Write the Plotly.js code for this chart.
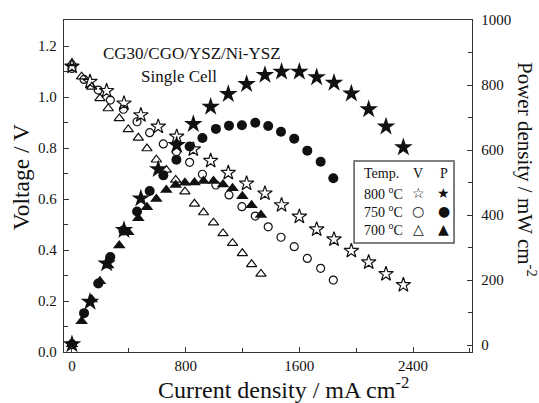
<!DOCTYPE html>
<html>
<head>
<meta charset="utf-8">
<script src="https://cdn.plot.ly/plotly-3.0.1.min.js"></script>
<style>html,body{margin:0;padding:0;background:#fff;}#chart{width:539px;height:403px;}</style>
</head>
<body>
<div id="chart"></div>
<script>
// Current density (mA cm-2), voltage (V), power density (mW cm-2)
const current800 = [0, 127, 244, 366, 485, 607, 737, 854, 976, 1100, 1229, 1358, 1475, 1600, 1722, 1844, 1966, 2088, 2210, 2332];
const volt800 = [1.12, 1.06, 1.024, 0.975, 0.929, 0.884, 0.845, 0.795, 0.750, 0.703, 0.661, 0.622, 0.576, 0.531, 0.481, 0.442, 0.397, 0.352, 0.306, 0.263];
const power800 = [2, 133, 251, 354, 451, 541, 615, 680, 733, 772, 803, 831, 841, 841, 824, 807, 774, 725, 672, 608];

const current750 = [0, 85, 185, 270, 362, 458, 547, 643, 735, 828, 918, 1013, 1105, 1196, 1290, 1381, 1471, 1564, 1656, 1750, 1839];
const volt750 = [1.112, 1.069, 1.027, 0.988, 0.952, 0.903, 0.860, 0.816, 0.785, 0.744, 0.697, 0.655, 0.616, 0.570, 0.533, 0.491, 0.450, 0.413, 0.367, 0.328, 0.282];
const power750 = [2, 98, 189, 271, 352, 411, 474, 522, 570, 611, 637, 665, 675, 676, 684, 674, 656, 635, 598, 564, 513];

const current700 = [0, 68, 139, 197, 255, 333, 396, 467, 528, 594, 664, 730, 795, 862, 926, 996, 1063, 1130, 1199, 1264, 1330];
const volt700 = [1.132, 1.080, 1.040, 0.995, 0.955, 0.916, 0.873, 0.840, 0.798, 0.754, 0.714, 0.675, 0.629, 0.581, 0.547, 0.507, 0.465, 0.427, 0.387, 0.344, 0.306];
const power700 = [2, 73, 140, 196, 245, 306, 347, 390, 424, 449, 477, 492, 499, 500, 505, 505, 494, 482, 458, 430, 400];

const xTicks = [0, 800, 1600, 2400];
const yTicks = [0.0, 0.2, 0.4, 0.6, 0.8, 1.0, 1.2];
const y2Ticks = [0, 200, 400, 600, 800, 1000];
const legendTemps = ['800 <sup>o</sup>C', '750 <sup>o</sup>C', '700 <sup>o</sup>C'];
const legendV = ['\u2606', '\u25CB', '\u25B3'];
const legendP = ['\u2605', '\u25CF', '\u25B2'];

const serif = 'Liberation Serif';
const ink = '#111';

function vTrace(x, y, sym, size) {
  return {x: x, y: y, type: 'scatter', mode: 'markers', yaxis: 'y', showlegend: false,
    marker: {symbol: sym, size: size, color: ink, line: {color: ink, width: 1.2}}};
}
function pTrace(x, y, sym, size) {
  return {x: x, y: y, type: 'scatter', mode: 'markers', yaxis: 'y2', showlegend: false,
    marker: {symbol: sym, size: size, color: ink, line: {color: ink, width: 0}}};
}

const data = [
  vTrace(current800, volt800, 'star-open', 11),
  vTrace(current750, volt750, 'circle-open', 8),
  vTrace(current700, volt700, 'triangle-up-open', 9),
  pTrace(current800, power800, 'star', 14),
  pTrace(current750, power750, 'circle', 10),
  pTrace(current700, power700, 'triangle-up', 11)
];

function note(text, x, y, size, extra) {
  const a = {text: text, xref: 'paper', yref: 'paper', x: x, y: y, showarrow: false,
    xanchor: 'center', yanchor: 'middle', font: {family: serif, size: size, color: ink}};
  return Object.assign(a, extra || {});
}

const annotations = [
  note('CG30/CGO/YSZ/Ni-YSZ', 0.314, 0.9006, 17),
  note('Single Cell', 0.282, 0.831, 17),
  note('Current density / mA cm<sup>-2</sup>', 0.537, -0.108, 24),
  note('Voltage / V', -0.105, 0.527, 23.5, {textangle: -90}),
  note('Power density / mW cm<sup>-2</sup>', 1.135, 0.551, 21, {textangle: 90}),
  note('Temp.', 0.730, 0.539, 14, {xanchor: 'left'}),
  note('V', 0.868, 0.539, 14),
  note('P', 0.931, 0.539, 14)
];
const rowY = [0.480, 0.425, 0.370];
legendTemps.forEach(function (t, i) {
  annotations.push(note(t, 0.730, rowY[i], 14, {xanchor: 'left'}));
  annotations.push(note(legendV[i], 0.868, rowY[i], 14, {font: {family: 'DejaVu Sans', size: 14, color: ink}}));
  annotations.push(note(legendP[i], 0.931, rowY[i], 14, {font: {family: 'DejaVu Sans', size: 14, color: ink}}));
});

const layout = {
  width: 539, height: 403,
  margin: {l: 64, r: 67, t: 20, b: 51, pad: 0},
  paper_bgcolor: '#fff', plot_bgcolor: '#fff',
  showlegend: false,
  font: {family: serif, color: ink, size: 15},
  xaxis: {
    range: [-56, 2815], tickvals: xTicks, ticktext: xTicks.map(String),
    ticks: 'inside', ticklen: 5, tickwidth: 1, tickcolor: '#333',
    minor: {dtick: 400, tick0: 0, ticks: 'inside', ticklen: 4, tickcolor: '#333'},
    showline: true, linecolor: '#333', linewidth: 1.2, mirror: true,
    showgrid: false, zeroline: false,
    tickfont: {family: serif, size: 15, color: ink}
  },
  yaxis: {
    range: [0, 1.302], tickvals: yTicks, ticktext: yTicks.map(function (v) { return v.toFixed(1); }),
    ticks: 'inside', ticklen: 5, tickwidth: 1, tickcolor: '#333',
    minor: {dtick: 0.1, tick0: 0, ticks: 'inside', ticklen: 4, tickcolor: '#333'},
    showline: true, linecolor: '#333', linewidth: 1.2,
    showgrid: false, zeroline: false, ticklabelstandoff: 3,
    tickfont: {family: serif, size: 15, color: ink}
  },
  yaxis2: {
    overlaying: 'y', side: 'right',
    range: [-21.5, 1000], tickvals: y2Ticks, ticktext: y2Ticks.map(String),
    ticks: 'inside', ticklen: 5, tickwidth: 1, tickcolor: '#333',
    minor: {dtick: 100, tick0: 0, ticks: 'inside', ticklen: 4, tickcolor: '#333'},
    showline: true, linecolor: '#333', linewidth: 1.2,
    showgrid: false, zeroline: false, ticklabelstandoff: 5,
    tickfont: {family: serif, size: 15, color: ink}
  },
  shapes: [
    {type: 'rect', xref: 'paper', yref: 'paper', x0: 0.711, x1: 0.956, y0: 0.328, y1: 0.575,
      line: {color: '#555', width: 1.5}, fillcolor: 'rgba(255,255,255,1)', layer: 'above'}
  ],
  annotations: annotations
};

Plotly.newPlot('chart', data, layout, {displayModeBar: false, staticPlot: true});
</script>
</body>
</html>
